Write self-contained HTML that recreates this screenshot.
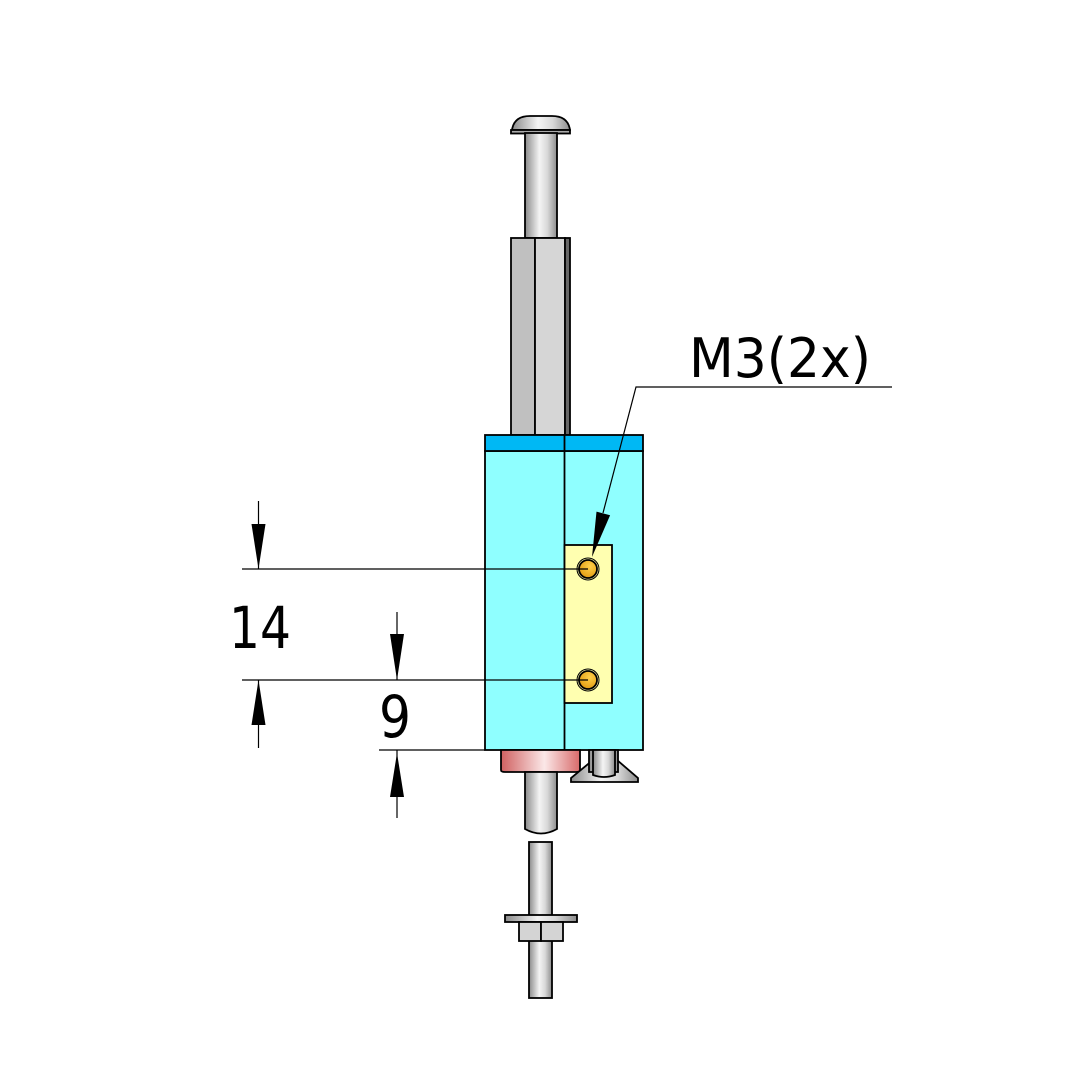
<!DOCTYPE html>
<html><head><meta charset="utf-8"><style>
html,body{margin:0;padding:0;background:#fff;width:1082px;height:1083px;overflow:hidden}
svg{display:block}
</style></head><body>
<svg width="1082" height="1083" viewBox="0 0 1082 1083" xmlns="http://www.w3.org/2000/svg">
<defs>
<linearGradient id="cyl" x1="0" x2="1" y1="0" y2="0">
<stop offset="0" stop-color="#8a8a8a"/><stop offset="0.45" stop-color="#f4f4f4"/><stop offset="0.7" stop-color="#d8d8d8"/><stop offset="1" stop-color="#8c8c8c"/>
</linearGradient>
<linearGradient id="red" x1="0" x2="1">
<stop offset="0" stop-color="#d06060"/><stop offset="0.55" stop-color="#fbe8e8"/><stop offset="1" stop-color="#d86a6a"/>
</linearGradient>
<radialGradient id="hole" cx="0.6" cy="0.35" r="0.7">
<stop offset="0" stop-color="#ffd04a"/><stop offset="1" stop-color="#e09a10"/>
</radialGradient>
</defs>
<g stroke="#000" stroke-width="1.8">
<path d="M512 130 Q514 116 530 116 L552 116 Q568 116 570 130 Z" fill="url(#cyl)"/>
<rect x="511" y="130" width="59" height="3.5" fill="#aaa"/>
<rect x="525" y="133" width="32" height="105" fill="url(#cyl)"/>
<rect x="511" y="238" width="24" height="197" fill="#c0c0c0"/>
<rect x="535" y="238" width="30" height="197" fill="#d6d6d6"/>
<rect x="565" y="238" width="5" height="197" fill="#666"/>
<rect x="485" y="451" width="158" height="299" fill="#8fffff"/>
<rect x="485" y="435" width="158" height="16" fill="#00b8f4"/>
<line x1="564.5" y1="435" x2="564.5" y2="750"/>
<rect x="564.5" y="545" width="47.5" height="158" fill="#ffffb0"/>
<circle cx="588" cy="569" r="11" fill="none" stroke-width="1"/>
<circle cx="588" cy="569" r="9" fill="url(#hole)"/>
<circle cx="588" cy="680" r="11" fill="none" stroke-width="1"/>
<circle cx="588" cy="680" r="9" fill="url(#hole)"/>
<path d="M501 750 L580 750 L580 770 Q580 772 576 772 L505 772 Q501 772 501 770 Z" fill="url(#red)"/>
<path d="M525 772 L557 772 L557 829 Q541 838 525 829 Z" fill="url(#cyl)"/>
<path d="M593 760 L617 760 L638 778 L638 782 L571 782 L571 778 Z" fill="url(#cyl)"/>
<path d="M589 750 L618 750 L618 772 L589 772 Z" fill="url(#cyl)"/>
<path d="M593 750 L615 750 L615 775 Q604 779 593 775 Z" fill="url(#cyl)"/>
<rect x="529" y="842" width="23" height="156" fill="url(#cyl)"/>
<rect x="505" y="915" width="72" height="7" fill="url(#cyl)"/>
<rect x="519" y="922" width="22" height="19" fill="#d4d4d4"/>
<rect x="541" y="922" width="22" height="19" fill="#d4d4d4"/>
</g>
<g stroke="#000" stroke-width="1.2" fill="none">
<line x1="242" y1="569" x2="588" y2="569"/>
<line x1="242" y1="680" x2="588" y2="680"/>
<line x1="379" y1="750" x2="485" y2="750"/>
<line x1="258.5" y1="501" x2="258.5" y2="569"/>
<line x1="258.5" y1="680" x2="258.5" y2="748"/>
<line x1="397" y1="612" x2="397" y2="680"/>
<line x1="397" y1="750" x2="397" y2="818"/>
<polyline points="603,513 636,387 892,387"/>
</g>
<g fill="#000">
<polygon points="251.5,524 265.5,524 258.5,569"/>
<polygon points="251.5,725 265.5,725 258.5,680"/>
<polygon points="390,634 404,634 397,680"/>
<polygon points="390,797 404,797 397,753"/>
<polygon points="596.5,511.6 610.1,515.2 592,557"/>
</g>
<g font-family="'DejaVu Sans','Liberation Sans',sans-serif" font-weight="normal" fill="#000">
<text x="229" y="648" font-size="58" textLength="62" lengthAdjust="spacingAndGlyphs">14</text>
<text x="379" y="737" font-size="58" textLength="32" lengthAdjust="spacingAndGlyphs">9</text>
<text x="689" y="377" font-size="54" textLength="182" lengthAdjust="spacingAndGlyphs">M3(2x)</text>
</g>
</svg>
</body></html>
